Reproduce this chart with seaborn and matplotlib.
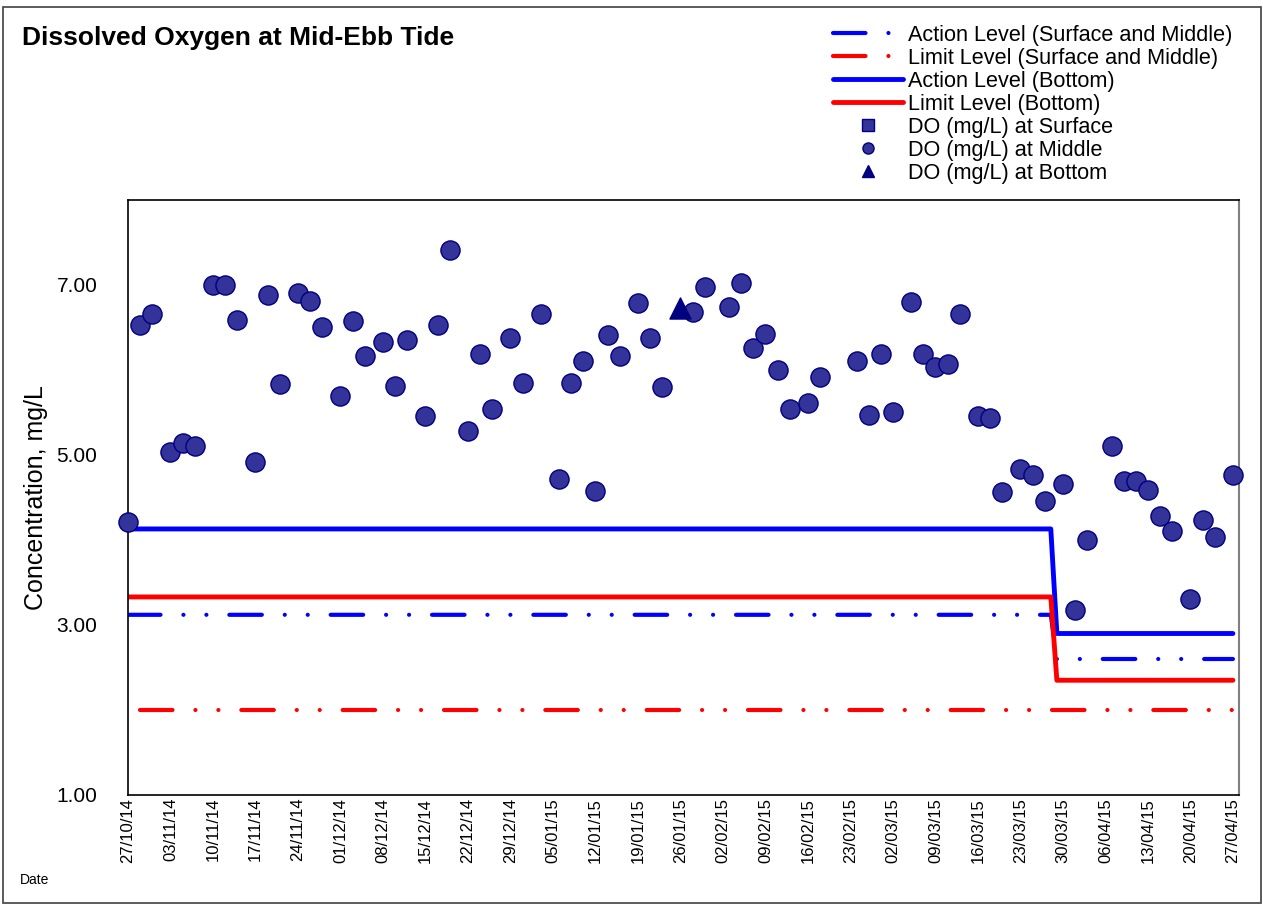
import matplotlib
matplotlib.use('Agg')
import matplotlib.pyplot as plt
import matplotlib.dates as mdates
from matplotlib.lines import Line2D
from matplotlib.patches import Rectangle
import seaborn as sns
import pandas as pd

# DO readings at mid-depth (circles)
middle_dates = ['2014-10-27', '2014-10-29', '2014-10-31', '2014-11-03', '2014-11-05', '2014-11-07',
                '2014-11-10', '2014-11-12', '2014-11-14', '2014-11-17', '2014-11-19', '2014-11-21',
                '2014-11-24', '2014-11-26', '2014-11-28', '2014-12-01', '2014-12-03', '2014-12-05',
                '2014-12-08', '2014-12-10', '2014-12-12', '2014-12-15', '2014-12-17', '2014-12-19',
                '2014-12-22', '2014-12-24', '2014-12-26', '2014-12-29', '2014-12-31', '2015-01-03',
                '2015-01-06', '2015-01-08', '2015-01-10', '2015-01-12', '2015-01-14', '2015-01-16',
                '2015-01-19', '2015-01-21', '2015-01-23', '2015-01-28', '2015-01-30', '2015-02-03',
                '2015-02-05', '2015-02-07', '2015-02-09', '2015-02-11', '2015-02-13', '2015-02-16',
                '2015-02-18', '2015-02-24', '2015-02-26', '2015-02-28', '2015-03-02', '2015-03-05',
                '2015-03-07', '2015-03-09', '2015-03-11', '2015-03-13', '2015-03-16', '2015-03-18',
                '2015-03-20', '2015-03-23', '2015-03-25', '2015-03-27', '2015-03-30', '2015-04-01',
                '2015-04-03', '2015-04-07', '2015-04-09', '2015-04-11', '2015-04-13', '2015-04-15',
                '2015-04-17', '2015-04-20', '2015-04-22', '2015-04-24', '2015-04-27']
middle_do = [4.21, 6.53, 6.66, 5.04, 5.14, 5.11,
             7.00, 7.00, 6.59, 4.92, 6.88, 5.84,
             6.91, 6.81, 6.51, 5.69, 6.58, 6.16,
             6.33, 5.81, 6.35, 5.46, 6.53, 7.41,
             5.28, 6.19, 5.54, 6.38, 5.85, 6.66,
             4.72, 5.85, 6.11, 4.58, 6.41, 6.16,
             6.79, 6.38, 5.80, 6.68, 6.98, 6.74,
             7.02, 6.26, 6.42, 6.00, 5.54, 5.61,
             5.92, 6.11, 5.47, 6.19, 5.51, 6.80,
             6.19, 6.04, 6.07, 6.66, 5.46, 5.44,
             4.56, 4.84, 4.76, 4.46, 4.66, 3.18,
             4.00, 5.11, 4.69, 4.69, 4.59, 4.28,
             4.11, 3.31, 4.24, 4.04, 4.76]

# DO readings at bottom (triangle)
bottom_dates = ['2015-01-26']
bottom_do = [6.73]

# criteria lines
action_sm_dates = ['2014-10-27', '2015-03-28', '2015-03-29', '2015-04-27']
action_sm = [3.12, 3.12, 2.60, 2.60]
limit_sm_dates = ['2014-10-29', '2015-04-27']
limit_sm = [2.00, 2.00]
action_bot_dates = ['2014-10-27', '2015-03-28', '2015-03-29', '2015-04-27']
action_bot = [4.13, 4.13, 2.90, 2.90]
limit_bot_dates = ['2014-10-27', '2015-03-28', '2015-03-29', '2015-04-27']
limit_bot = [3.33, 3.33, 2.35, 2.35]

legend_labels = ['Action Level (Surface and Middle)', 'Limit Level (Surface and Middle)',
                 'Action Level (Bottom)', 'Limit Level (Bottom)',
                 'DO (mg/L) at Surface', 'DO (mg/L) at Middle', 'DO (mg/L) at Bottom']

sns.set_style('white')
plt.rcParams['font.family'] = ['Liberation Sans', 'DejaVu Sans']
plt.rcParams['text.color'] = 'black'
plt.rcParams['axes.labelcolor'] = 'black'
plt.rcParams['xtick.color'] = 'black'
plt.rcParams['ytick.color'] = 'black'

dashdotdot = (0, (7.8, 5.5, 0.01, 5.5, 0.01, 5.5))
fill_c = '#333399'
edge_c = '#000080'

fig = plt.figure(figsize=(12.63, 9.10), dpi=100)
ax = fig.add_axes([128 / 1263, 1 - 795 / 910, (1239 - 128) / 1263, (795 - 200) / 910])

sns.lineplot(x=pd.to_datetime(action_sm_dates), y=action_sm, ax=ax, color='#0000FF', lw=3,
             linestyle=dashdotdot, dash_capstyle='round', sort=False)
sns.lineplot(x=pd.to_datetime(limit_sm_dates), y=limit_sm, ax=ax, color='#FF0000', lw=3,
             linestyle=dashdotdot, dash_capstyle='round', sort=False)
sns.lineplot(x=pd.to_datetime(action_bot_dates), y=action_bot, ax=ax, color='#0000FF', lw=3.5, sort=False)
sns.lineplot(x=pd.to_datetime(limit_bot_dates), y=limit_bot, ax=ax, color='#FF0000', lw=3.5, sort=False)

sns.scatterplot(x=pd.to_datetime(middle_dates), y=middle_do, ax=ax, marker='o', s=190,
                color=fill_c, edgecolor=edge_c, linewidth=1, zorder=5, clip_on=False)
sns.scatterplot(x=pd.to_datetime(bottom_dates), y=bottom_do, ax=ax, marker='^', s=230,
                color=edge_c, edgecolor=edge_c, linewidth=1, zorder=6, clip_on=False)

ax.set_xlim(pd.Timestamp('2014-10-27'), pd.Timestamp('2015-04-28'))
ax.set_ylim(1, 8)
ax.set_yticks([1, 3, 5, 7])
ax.yaxis.set_major_formatter(matplotlib.ticker.FormatStrFormatter('%.2f'))
ax.xaxis.set_major_locator(mdates.WeekdayLocator(byweekday=mdates.MO))
ax.xaxis.set_major_formatter(mdates.DateFormatter('%d/%m/%y'))
ax.tick_params(axis='x', direction='in', length=5, width=1, labelsize=12, rotation=90, pad=2)
ax.tick_params(axis='y', direction='in', length=5, width=1, labelsize=15, pad=22)
ax.set_xlabel('')
ax.set_ylabel('Concentration, mg/L', fontsize=18, labelpad=6)
for side in ['left', 'bottom', 'top']:
    ax.spines[side].set_color('black')
    ax.spines[side].set_linewidth(1.2)
ax.spines['right'].set_color('#808080')
ax.spines['right'].set_linewidth(1.5)

fig.text(22 / 1263, 1 - 38 / 910, 'Dissolved Oxygen at Mid-Ebb Tide', fontsize=19,
         fontweight='bold', va='center', ha='left')
fig.text(20 / 1263, 1 - 880 / 910, 'Date', fontsize=10, va='center', ha='left')

# legend (proxy handles)
handles = [
    Line2D([], [], color='#0000FF', lw=3, linestyle=dashdotdot, dash_capstyle='round'),
    Line2D([], [], color='#FF0000', lw=3, linestyle=dashdotdot, dash_capstyle='round'),
    Line2D([], [], color='#0000FF', lw=3.5),
    Line2D([], [], color='#FF0000', lw=3.5),
    Line2D([], [], color=fill_c, marker='s', markersize=8, markeredgecolor=edge_c, linestyle='none'),
    Line2D([], [], color=fill_c, marker='o', markersize=8, markeredgecolor=edge_c, linestyle='none'),
    Line2D([], [], color=edge_c, marker='^', markersize=8, markeredgecolor=edge_c, linestyle='none'),
]
fig.legend(handles, legend_labels, loc='upper right', bbox_to_anchor=(1232 / 1263, 1 - 25 / 910),
           frameon=False, fontsize=15.6, handlelength=3.25, handletextpad=0.2,
           labelspacing=0.09, borderpad=0, borderaxespad=0)

# outer chart border
fig.patches.append(Rectangle((3 / 1263, 1 - 903 / 910), 1258 / 1263, 896 / 910,
                             transform=fig.transFigure, fill=False, edgecolor='#404040', lw=1.2))

fig.savefig('out.png', dpi=100)
